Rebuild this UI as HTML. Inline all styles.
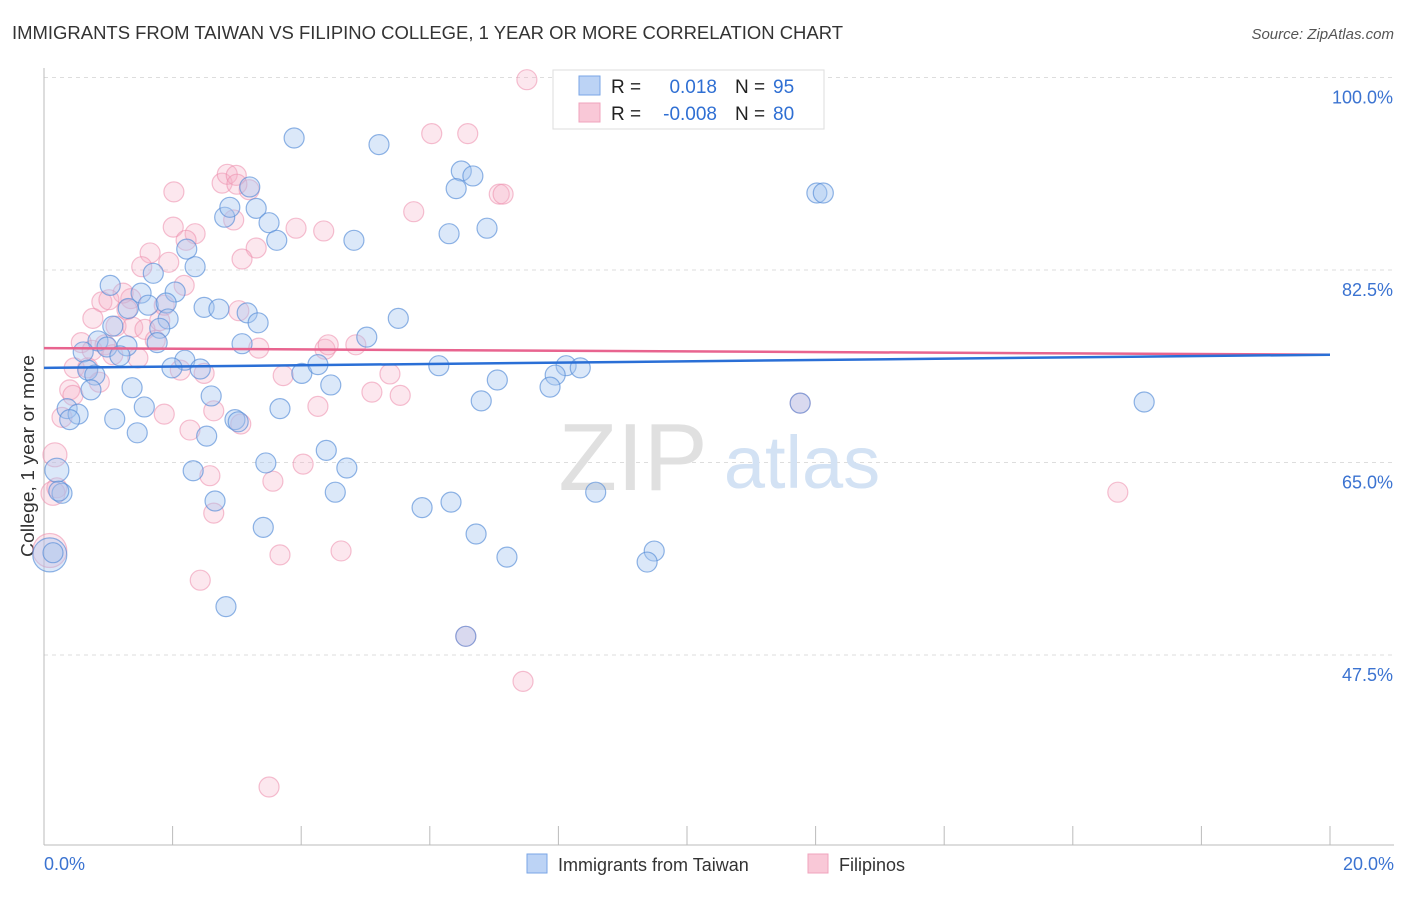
<!DOCTYPE html>
<html><head><meta charset="utf-8"><style>
body{margin:0;background:#fff;font-family:"Liberation Sans",sans-serif;}
svg text{font-family:"Liberation Sans",sans-serif;}
</style></head><body>
<svg id="chart" width="1406" height="892" viewBox="0 0 1406 892" xmlns="http://www.w3.org/2000/svg">
<text x="12" y="39" font-size="18" fill="#333" textLength="831" lengthAdjust="spacingAndGlyphs">IMMIGRANTS FROM TAIWAN VS FILIPINO COLLEGE, 1 YEAR OR MORE CORRELATION CHART</text>
<text x="1394" y="39" font-size="15" fill="#555" font-style="italic" text-anchor="end">Source: ZipAtlas.com</text>
<text transform="translate(34,456) rotate(-90)" font-size="18" fill="#333" text-anchor="middle" textLength="202" lengthAdjust="spacingAndGlyphs">College, 1 year or more</text>
<g id="grid"></g>
<g id="watermark">
<text x="633" y="490" font-size="96" fill="#e0e0e0" font-family="Liberation Serif" text-anchor="middle">ZIP</text>
<text x="802" y="488" font-size="74" fill="#d3e2f4" text-anchor="middle">atlas</text>
</g>
<g id="axes"></g>
<g id="pts"></g>
<g id="trend"></g>
<g>
<rect x="553" y="70" width="271" height="59" fill="#fff" stroke="#ddd"/>
<rect x="579" y="76" width="21" height="19" fill="#bcd3f5" stroke="#7aa6e6"/>
<rect x="579" y="103" width="21" height="19" fill="#f9c8d7" stroke="#f0a3bc"/>
<text x="611" y="93" font-size="19" fill="#222">R =</text>
<text x="717" y="93" font-size="19" fill="#2f6fd3" text-anchor="end">0.018</text>
<text x="735" y="93" font-size="19" fill="#222">N =</text>
<text x="773" y="93" font-size="19" fill="#2f6fd3">95</text>
<text x="611" y="120" font-size="19" fill="#222">R =</text>
<text x="717" y="120" font-size="19" fill="#2f6fd3" text-anchor="end">-0.008</text>
<text x="735" y="120" font-size="19" fill="#222">N =</text>
<text x="773" y="120" font-size="19" fill="#2f6fd3">80</text>
</g>
<g>
<rect x="527" y="854" width="20" height="19" fill="#bcd3f5" stroke="#7aa6e6"/>
<text x="558" y="871" font-size="18" fill="#333">Immigrants from Taiwan</text>
<rect x="808" y="854" width="20" height="19" fill="#f9c8d7" stroke="#f0a3bc"/>
<text x="839" y="871" font-size="18" fill="#333">Filipinos</text>
</g>
</svg>
<script>
const xTicks=[0,20];
const yTicks=[100,82.5,65,47.5];
const blueX=[3.89,5.21,6.49,6.67,6.41,3.20,2.81,2.89,3.30,3.50,3.62,4.82,6.30,6.89,12.02,12.12,2.22,2.35,1.70,1.03,1.51,2.04,1.62,1.90,1.31,1.93,1.80,2.49,2.72,3.16,3.33,1.76,3.08,5.02,5.51,1.07,0.84,1.29,0.98,0.61,1.18,2.19,1.99,2.43,4.01,4.26,6.14,8.12,8.34,7.95,7.05,4.46,0.68,0.79,0.73,1.37,1.56,2.60,3.67,6.80,7.87,11.76,17.11,0.36,0.53,0.40,1.10,1.45,2.97,3.02,2.53,4.39,3.45,4.71,2.32,0.20,0.28,0.23,2.66,4.53,5.88,6.33,8.58,3.41,6.72,7.20,9.49,9.38,2.83,6.56,0.09,0.14];
const blueY=[94.5,93.9,91.5,91.05,89.9,90.05,87.3,88.2,88.1,86.8,85.2,85.2,85.8,86.3,89.5,89.5,84.4,82.8,82.2,81.1,80.4,80.5,79.3,79.5,79.0,78.05,77.2,79.1,78.95,78.6,77.7,75.9,75.8,76.4,78.1,77.4,76.05,75.6,75.5,75.05,74.7,74.3,73.6,73.5,73.1,73.9,73.8,73.8,73.6,72.95,72.5,72.05,73.4,72.95,71.6,71.8,70.05,71.05,69.9,70.6,71.85,70.4,70.5,69.9,69.4,68.9,68.96,67.7,68.9,68.7,67.4,66.1,64.96,64.5,64.25,64.3,62.2,62.4,61.5,62.3,60.9,61.4,62.3,59.1,58.5,56.4,56.95,55.95,51.9,49.2,56.6,56.8];
const blueR=[10,10,10,10,10,10,10,10,10,10,10,10,10,10,10,10,10,10,10,10,10,10,10,10,10,10,10,10,10,10,10,10,10,10,10,10,10,10,10,10,10,10,10,10,10,10,10,10,10,10,10,10,10,10,10,10,10,10,10,10,10,10,10,10,10,10,10,10,10,10,10,10,10,10,10,12,10,10,10,10,10,10,10,10,10,10,10,10,10,10,17,10];
const pinkX=[7.51,6.03,6.59,3.19,2.02,2.77,2.85,2.99,3.00,7.08,7.14,5.75,2.95,2.01,2.35,2.21,3.92,4.35,3.30,3.08,1.65,1.52,1.94,2.18,1.35,0.90,1.23,1.01,1.29,0.76,1.12,1.38,1.57,1.80,1.73,3.03,1.87,0.58,0.75,0.95,1.07,1.46,3.34,4.37,4.42,4.85,0.47,0.68,0.86,0.40,0.45,2.12,2.49,3.72,5.38,5.10,5.54,4.26,1.87,2.64,0.28,2.27,3.06,0.17,4.03,2.58,3.56,0.20,0.14,2.64,3.67,4.62,2.43,16.70,6.56,11.76,7.45,3.50,0.09];
const pinkY=[99.8,94.9,94.9,89.8,89.6,90.4,91.2,91.1,90.3,89.4,89.4,87.8,87.05,86.4,85.8,85.2,86.3,86.05,84.5,83.5,84.05,82.8,83.2,81.1,79.9,79.6,80.4,79.8,78.9,78.1,77.4,77.3,77.1,77.9,76.1,78.8,79.3,75.9,75.2,75.7,74.8,74.5,75.4,75.3,75.7,75.7,73.6,73.6,72.3,71.6,71.1,73.4,73.1,72.9,73.05,71.4,71.1,70.1,69.4,69.7,69.1,67.95,68.5,65.7,64.85,63.8,63.3,62.7,62.2,60.4,56.6,56.96,54.3,62.3,49.2,70.4,45.1,35.5,57.0];
const pinkR=[10,10,10,10,10,10,10,10,10,10,10,10,10,10,10,10,10,10,10,10,10,10,10,10,10,10,10,10,10,10,10,10,10,10,10,10,10,10,10,10,10,10,10,10,10,10,10,10,10,10,10,10,10,10,10,10,10,10,10,10,10,10,10,12,10,10,10,10,12,10,10,10,10,10,10,10,10,10,17];
const trendX=[0,20];
const blueTrend=[73.6,74.8];
const pinkTrend=[75.4,74.8];
const NS='http://www.w3.org/2000/svg';
const X0=44,X1=1330,Y0=845,YTOP=77.5;
const yMin=100-(Y0-YTOP)/11;
function sx(v){return X0+(v-0)/(20-0)*(X1-X0);}
function sy(v){return Y0-(v-yMin)/(100-yMin)*(Y0-YTOP);}
function mk(tag,attrs,parent){const e=document.createElementNS(NS,tag);for(const k in attrs)e.setAttribute(k,attrs[k]);parent.appendChild(e);return e;}
const grid=document.getElementById('grid'),axes=document.getElementById('axes');
yTicks.forEach(t=>{
  const l=mk('line',{x1:X0,x2:1394,y1:sy(t),y2:sy(t),stroke:'#ddd','stroke-dasharray':'4 4'},grid);
  
  
  const tx=mk('text',{x:1393,y:sy(t)+26,'font-size':18,fill:'#3b73d1','text-anchor':'end'},axes);
  tx.textContent=t.toFixed(1)+'%';
  
  
});
const ax=mk('line',{x1:X0,x2:X0,y1:68,y2:Y0,stroke:'#bbb'},axes);


const bx=mk('line',{x1:X0,x2:1394,y1:Y0,y2:Y0,stroke:'#bbb'},axes);


for(let i=0;i<=10;i++){
  const t=mk('line',{x1:sx(i*2),x2:sx(i*2),y1:826,y2:Y0,stroke:'#bbb'},axes);
  
  
}
xTicks.forEach((t,i)=>{
  const tx=mk('text',{x:i==0?44:1394,y:870,'font-size':18,fill:'#3b73d1','text-anchor':i==0?'start':'end'},axes);
  tx.textContent=t.toFixed(1)+'%';
  
  
});
const pts=document.getElementById('pts');
pinkX.forEach((x,i)=>{
  const c=mk('circle',{cx:sx(x),cy:sy(pinkY[i]),r:pinkR[i],fill:'rgba(245,175,200,0.3)',stroke:'rgba(236,140,172,0.55)','stroke-width':1.2},pts);
  
  
});
blueX.forEach((x,i)=>{
  const c=mk('circle',{cx:sx(x),cy:sy(blueY[i]),r:blueR[i],fill:'rgba(165,198,240,0.4)',stroke:'rgba(85,140,215,0.65)','stroke-width':1.2},pts);
  
  
});
const tr=document.getElementById('trend');
const tp=mk('line',{x1:sx(trendX[0]),y1:sy(pinkTrend[0]),x2:sx(trendX[1]),y2:sy(pinkTrend[1]),stroke:'#e8648f','stroke-width':2.5},tr);


const tb=mk('line',{x1:sx(trendX[0]),y1:sy(blueTrend[0]),x2:sx(trendX[1]),y2:sy(blueTrend[1]),stroke:'#2a6fd6','stroke-width':2.5},tr);


</script>
</body></html>
